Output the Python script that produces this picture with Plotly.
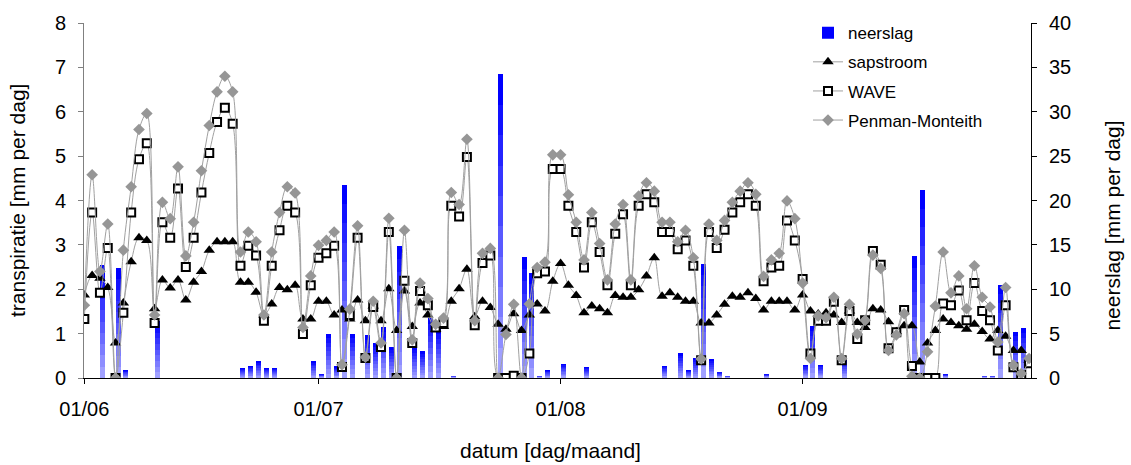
import plotly.graph_objects as go
import pandas as pd

# ---------------- data ----------------
start_date = "2005-06-01"
n_days = 122
dates = pd.date_range(start_date, periods=n_days, freq="D")

month_ticks = ["2005-06-01", "2005-07-01", "2005-08-01", "2005-09-01"]
month_labels = ["01/06", "01/07", "01/08", "01/09"]

# precipitation [mm per dag]
neerslag = [
    0, 0, 12.7, 0, 12.4, 0.9, 0, 0, 0, 6.4,
    0, 0, 0, 0, 0, 0, 0, 0, 0, 0,
    1.1, 1.4, 1.9, 1.1, 1.1, 0, 0, 0, 0, 1.9,
    0.45, 5.0, 1.3, 21.8, 5.0, 0, 4.8, 3.9, 5.7, 3.5,
    14.9, 0, 3.5, 3.0, 6.8, 5.5, 0, 0.2, 0, 0,
    0, 0, 0, 34.2, 0, 0, 13.6, 11.8, 0.2, 0.9,
    0, 1.6, 0, 0, 1.2, 0, 0, 0, 0, 0,
    0, 0, 0, 0, 1.4, 0, 2.8, 0.9, 2.3, 12.9,
    2.1, 0.7, 0.2, 0, 0, 0, 0, 0.45, 0, 0,
    0, 0, 1.5, 5.9, 1.5, 0, 0, 2.0, 0, 0,
    0, 0, 0, 0, 0, 0, 13.8, 21.2, 0, 0,
    0.45, 0, 0, 0, 0, 0.2, 0.2, 10.5, 0, 5.2,
    5.6, 0,
]

# sap flow transpiration [mm per dag]
sapstroom = [
    1.87, 2.31, 2.25, 2.04, 0.79, 1.69, 2.62, 3.16, 3.10, 1.56,
    2.21, 2.03, 2.21, 1.76, 2.16, 2.40, 2.88, 3.07, 3.07, 3.07,
    2.16, 2.16, 1.93, 1.42, 1.67, 2.04, 1.99, 2.09, 1.33, 1.33,
    1.73, 1.73, 1.42, 1.53, 1.33, 1.76, 1.29, 1.62, 1.29, 2.01,
    1.07, 1.96, 1.16, 1.69, 1.42, 1.10, 1.16, 1.73, 2.01, 2.45,
    1.38, 1.73, 1.59, 1.21, 1.10, 1.45, 1.07, 1.42, 1.67, 1.51,
    2.18, 2.58, 2.09, 1.86, 1.47, 1.62, 1.56, 1.47, 1.86, 1.82,
    1.82, 1.99, 2.30, 2.71, 1.84, 1.92, 1.82, 1.73, 1.73, 1.24,
    1.24, 1.42, 1.66, 1.84, 1.82, 1.92, 1.79, 1.53, 1.73, 1.73,
    1.73, 1.53, 1.87, 1.51, 1.44, 1.47, 1.42, 1.25, 1.51, 1.25,
    1.14, 1.56, 1.53, 1.27, 1.04, 1.18, 1.18, 0.36, 0.79, 1.07,
    1.33, 1.25, 1.18, 1.10, 1.21, 1.05, 0.88, 1.07, 0.94, 0.62,
    0.62, 0.40,
]

# WAVE model [mm per dag]
wave = [
    1.33, 3.73, 1.92, 2.93, 0.00, 1.47, 3.73, 4.93, 5.29, 1.24,
    3.51, 3.16, 4.27, 2.50, 3.16, 4.18, 5.07, 5.77, 6.09, 5.73,
    2.53, 2.98, 2.76, 1.29, 2.53, 3.33, 3.88, 3.73, 0.99, 2.09,
    2.71, 2.81, 2.98, 0.25, 1.42, 3.16, 0.45, 1.60, 0.70, 3.29,
    0.00, 2.19, 0.79, 1.96, 1.64, 1.14, 1.24, 3.88, 3.64, 4.98,
    1.19, 2.59, 2.76, 0.00, 0.00, 0.05, 0.00, 0.55, 2.36, 2.40,
    4.71, 4.71, 3.88, 3.29, 2.49, 3.51, 2.84, 2.09, 3.25, 3.69,
    2.09, 3.88, 4.14, 3.96, 3.29, 3.29, 2.90, 3.10, 2.53, 0.40,
    3.29, 2.93, 3.34, 3.73, 3.96, 4.14, 3.88, 2.18, 2.49, 2.53,
    3.55, 3.10, 2.23, 0.55, 1.29, 1.29, 1.72, 0.40, 1.51, 0.88,
    1.30, 2.86, 2.55, 0.67, 1.03, 1.53, 0.27, 0.00, 0.00, 0.00,
    1.68, 1.64, 1.97, 1.30, 2.14, 1.51, 1.30, 0.62, 1.64, 0.24,
    0.07, 0.33,
]

# Penman-Monteith [mm per dag]
penman = [
    1.64, 4.58, 2.40, 3.47, 0.00, 2.88, 4.31, 5.60, 5.96, 1.42,
    3.96, 3.59, 4.76, 2.75, 3.51, 4.67, 5.69, 6.45, 6.80, 6.45,
    2.84, 3.29, 3.07, 1.42, 2.84, 3.73, 4.31, 4.17, 1.14, 2.30,
    2.99, 3.10, 3.29, 0.30, 1.55, 3.43, 0.47, 1.73, 0.79, 3.60,
    0.00, 3.33, 0.86, 2.14, 1.79, 1.21, 1.35, 4.18, 3.91, 5.38,
    1.29, 2.81, 2.92, 0.00, 0.98, 1.66, 0.00, 1.67, 2.49, 2.61,
    5.03, 5.03, 4.13, 3.51, 2.66, 3.73, 3.03, 2.21, 3.47, 3.91,
    2.21, 4.10, 4.40, 4.21, 3.51, 3.51, 3.07, 3.33, 2.71, 0.43,
    3.47, 3.10, 3.55, 3.96, 4.21, 4.40, 4.14, 2.29, 2.66, 2.81,
    3.99, 3.59, 2.14, 0.44, 1.40, 1.36, 1.82, 0.44, 1.66, 0.99,
    1.30, 2.77, 2.47, 0.62, 0.97, 1.45, 0.04, 0.00, 0.59, 1.62,
    2.84, 1.92, 2.30, 1.56, 2.53, 1.82, 1.60, 0.81, 2.04, 0.29,
    0.10, 0.44,
]

# ---------------- figure ----------------
FONT = "Liberation Sans, Arial, sans-serif"
DAY_MS = 86400000
fig = go.Figure()

# gradient-like bars: overlay layers from full height (blue) to lower (lighter)
n_layers = 10
top_rgb = (0, 0, 255)
bot_rgb = (160, 160, 255)
for k in range(n_layers):
    frac = 1 - k / n_layers
    t = k / (n_layers - 1)
    col = tuple(int(round(top_rgb[i] + (bot_rgb[i] - top_rgb[i]) * t)) for i in range(3))
    fig.add_trace(go.Bar(
        x=dates, y=[v * frac for v in neerslag],
        name="neerslag", legendgroup="neerslag", showlegend=(k == 0),
        marker=dict(color="rgb(%d,%d,%d)" % col, line=dict(width=0)),
        opacity=1, width=0.64 * DAY_MS, offset=0,
        yaxis="y", hoverinfo="skip" if k else None,
    ))

line_col = "#a0a0a0"
fig.add_trace(go.Scatter(
    x=dates, y=sapstroom, name="sapstroom", yaxis="y2", mode="lines+markers",
    line=dict(color=line_col, width=1, shape="spline"),
    marker=dict(symbol="triangle-up", size=10, color="black"),
))
fig.add_trace(go.Scatter(
    x=dates, y=wave, name="WAVE", yaxis="y2", mode="lines+markers",
    line=dict(color=line_col, width=1, shape="spline"),
    marker=dict(symbol="square", size=8, color="white", line=dict(color="black", width=2)),
))
fig.add_trace(go.Scatter(
    x=dates, y=penman, name="Penman-Monteith", yaxis="y2", mode="lines+markers",
    line=dict(color=line_col, width=1, shape="spline"),
    marker=dict(symbol="diamond", size=9, color="#969696"),
))

x_end = dates[-1] + pd.Timedelta(hours=6)
fig.update_layout(
    width=1131, height=465,
    margin=dict(l=84, r=100, t=17, b=87),
    paper_bgcolor="white", plot_bgcolor="white",
    barmode="overlay", bargap=0,
    font=dict(family=FONT, size=20, color="black"),
    showlegend=True,
    legend=dict(x=(808 - 84) / 947, y=1.022, xanchor="left", yanchor="top",
                bgcolor="rgba(0,0,0,0)", font=dict(size=17),
                tracegroupgap=4),
    xaxis=dict(type="date", range=[dates[0] - pd.Timedelta(hours=1), x_end],
               tickvals=month_ticks, ticktext=month_labels,
               ticks="outside", ticklen=5, tickcolor="black",
               showline=True, linecolor="black", linewidth=1,
               showgrid=False, zeroline=False, ticklabelstandoff=8,
               tickfont=dict(size=20)),
    yaxis=dict(range=[0, 40], dtick=5, side="right",
               ticks="outside", ticklen=5, tickcolor="black",
               showline=True, linecolor="black", linewidth=1,
               showgrid=False, zeroline=False, tickfont=dict(size=20),
               ticklabelstandoff=8),
    yaxis2=dict(range=[0, 8], dtick=1, side="left", overlaying="y",
                ticks="outside", ticklen=5, tickcolor="#808080",
                showline=True, linecolor="#808080", linewidth=1,
                showgrid=False, zeroline=False, tickfont=dict(size=20),
                ticklabelstandoff=8),
    annotations=[
        dict(text="transpiratie [mm per dag]", xref="paper", yref="paper",
             x=(18 - 84) / 947, y=(378 - 198) / 361, xanchor="center", yanchor="middle",
             textangle=-90, showarrow=False, font=dict(size=21)),
        dict(text="neerslag [mm per dag]", xref="paper", yref="paper",
             x=(1113 - 84) / 947, y=(378 - 223) / 361, xanchor="center", yanchor="middle",
             textangle=-90, showarrow=False, font=dict(size=21)),
        dict(text="datum [dag/maand]", xref="paper", yref="paper",
             x=(550 - 84) / 947, y=(378 - 452) / 361, xanchor="center", yanchor="middle",
             showarrow=False, font=dict(size=21)),
    ],
)

fig.write_html("out.html")
